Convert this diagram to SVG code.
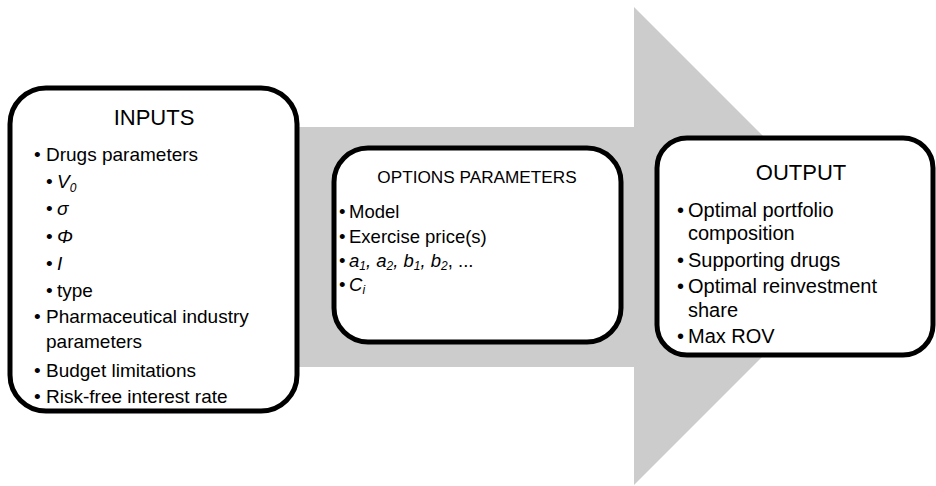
<svg xmlns="http://www.w3.org/2000/svg" width="936" height="486" viewBox="0 0 936 486">
  <style>
    text { font-family: "Liberation Sans", Arial, sans-serif; fill: #000; }
    .box { fill: #fff; stroke: #000; stroke-width: 5; }
    .flow { fill: #cccccc; }
    .it { font-style: italic; }
    .in { font-size: 19px; }
    .op { font-size: 18.5px; }
    .optitle { font-size: 17.2px; }
    .out { font-size: 20px; }
    .title { font-size: 22px; }
    .sub { font-size: 12px; }
  </style>

  <!-- broad process arrow behind the three stages -->
  <g id="connectors">
    <polygon class="flow" points="290,127 634,127 634,7 873,246 634,485 634,367 290,367"/>
  </g>

  <!-- stage 1 -->
  <g id="inputs">
    <rect class="box" x="10" y="88" width="287" height="323" rx="36"/>
    <text class="title" x="154" y="125" text-anchor="middle">INPUTS</text>
    <g class="in">
      <text x="34" y="161">•</text><text x="46" y="161">Drugs parameters</text>
      <text x="46" y="188">•</text><text x="57" y="188"><tspan class="it">V</tspan><tspan class="it sub" dy="4">0</tspan></text>
      <text x="46" y="215">•</text><text x="57" y="215" class="it">σ</text>
      <text x="46" y="243">•</text><text x="57" y="243" class="it">Φ</text>
      <text x="46" y="270">•</text><text x="57" y="270" class="it">I</text>
      <text x="46" y="297">•</text><text x="57" y="297">type</text>
      <text x="34" y="323">•</text><text x="46" y="323">Pharmaceutical industry</text>
      <text x="46" y="348">parameters</text>
      <text x="34" y="377">•</text><text x="46" y="377">Budget limitations</text>
      <text x="34" y="403">•</text><text x="46" y="403">Risk-free interest rate</text>
    </g>
  </g>

  <!-- stage 2 -->
  <g id="options">
    <rect class="box" x="334" y="148" width="287" height="194" rx="34"/>
    <text class="optitle" x="477" y="183" text-anchor="middle">OPTIONS PARAMETERS</text>
    <g class="op">
      <text x="339" y="218">•</text><text x="349" y="218">Model</text>
      <text x="339" y="243">•</text><text x="349" y="243">Exercise price(s)</text>
      <text x="339" y="267">•</text><text x="349" y="267" class="it">a<tspan class="sub" dy="3">1</tspan><tspan dy="-3">, a</tspan><tspan class="sub" dy="3">2</tspan><tspan dy="-3">, b</tspan><tspan class="sub" dy="3">1</tspan><tspan dy="-3">, b</tspan><tspan class="sub" dy="3">2</tspan><tspan dy="-3" font-style="normal">, ...</tspan></text>
      <text x="339" y="291">•</text><text x="349" y="291" class="it">C<tspan class="sub" dy="3">i</tspan></text>
    </g>
  </g>

  <!-- stage 3 -->
  <g id="output">
    <rect class="box" x="657" y="138" width="276" height="217" rx="30"/>
    <text class="title" x="801" y="180" text-anchor="middle">OUTPUT</text>
    <g class="out">
      <text x="677" y="217">•</text><text x="688" y="217">Optimal portfolio</text>
      <text x="688" y="240">composition</text>
      <text x="677" y="267">•</text><text x="688" y="267">Supporting drugs</text>
      <text x="677" y="293">•</text><text x="688" y="293">Optimal reinvestment</text>
      <text x="688" y="317">share</text>
      <text x="677" y="343">•</text><text x="688" y="343">Max ROV</text>
    </g>
  </g>
</svg>
